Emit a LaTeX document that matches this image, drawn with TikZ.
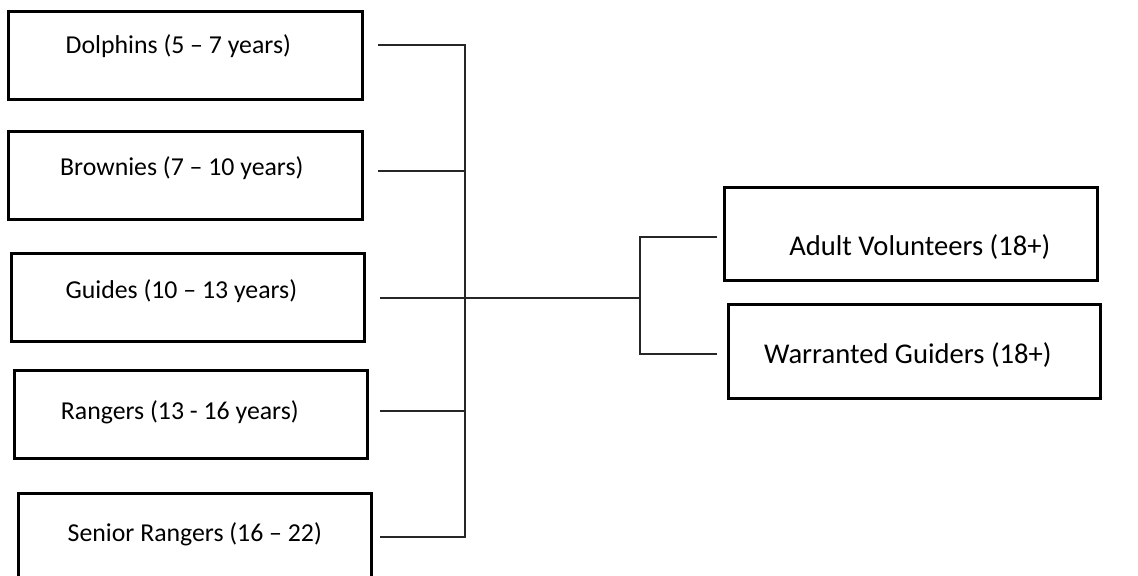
\documentclass[tikz,border=0pt]{standalone}
\usepackage{fontspec}
\setmainfont{Carlito}
\usetikzlibrary{positioning}

\begin{document}
\begin{tikzpicture}[
  x=0.5pt,y=-0.5pt,
  grp/.style 2 args={draw,line width=1.3pt,anchor=north west,inner sep=0pt,
    text height=#1,text depth=#2,font=\fontsize{12.9}{15}\selectfont},
  adult/.style={font=\fontsize{14.3}{17}\selectfont},
  link/.style={draw=black!85,line width=0.6pt},
]
\useasboundingbox (0,0) rectangle (1138,575);

% === LEFT: sections by age ===
\node[grp={21pt}{23pt},minimum width=177pt] (dol) at (7,10) {Dolphins (5 -- 7 years)\kern7pt};
\node[grp={22pt}{22pt},minimum width=177pt] (brw) at (7,130) {Brownies (7 -- 10 years)\kern3.5pt};
\node[grp={22.5pt}{21.5pt},minimum width=176.5pt] (gui) at (10,252) {Guides (10 -- 13 years)\kern6.5pt};
\node[grp={24.5pt}{19.5pt},minimum width=176.5pt] (rng) at (13,369) {Rangers (13 - 16 years)\kern11pt};
\node[grp={24pt}{21pt},minimum width=176.5pt] (srn) at (17,492) {Senior Rangers (16 -- 22)};

% === RIGHT: adults ===
\node[grp={34pt}{12.5pt},adult,minimum width=186.5pt] (adv) at (723,186) {\kern9pt Adult Volunteers (18+)};
\node[grp={29.5pt}{17.5pt},adult,minimum width=186pt] (wgd) at (727,303) {Warranted Guiders (18+)\kern6.5pt};

% Line ends
\coordinate (dol_in) at (378,45);
\coordinate (brw_in) at (378,171);
\coordinate (gui_in) at (380,298);
\coordinate (rng_in) at (380,411);
\coordinate (srn_in) at (380,537);
\coordinate (bus) at (465,298);
\coordinate (split) at (640,298);
\coordinate (adv_in) at (717,237);
\coordinate (wgd_in) at (717,354);

% Connectors
\draw[link] (dol_in) -| (bus) |- (srn_in);
\draw[link] (brw_in) -- (brw_in -| bus);
\draw[link] (gui_in) -- (bus);
\draw[link] (rng_in) -- (rng_in -| bus);
\draw[link] (bus) -- (split);
\draw[link] (adv_in) -| (split) |- (wgd_in);

\end{tikzpicture}
\end{document}
